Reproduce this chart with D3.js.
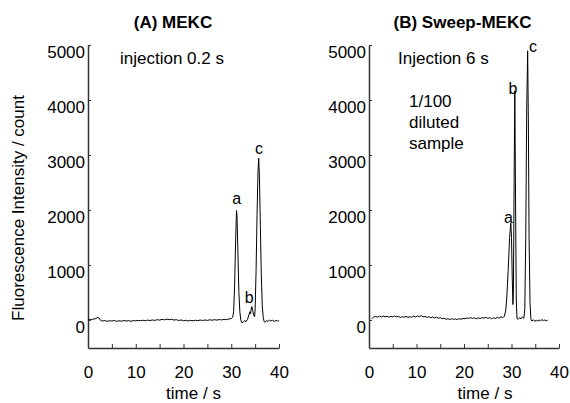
<!DOCTYPE html>
<html>
<head>
<meta charset="utf-8">
<script src="https://cdn.jsdelivr.net/npm/d3@7"></script>
<style>
  html, body { margin: 0; padding: 0; background: #fff; }
  svg { display: block; font-family: "Liberation Sans", Arial, sans-serif; }
</style>
</head>
<body>
<svg id="chart" width="570" height="403"></svg>
<script>
// ---------------- data ----------------
const panelTitles = ["(A) MEKC", "(B) Sweep-MEKC"];
const yTicks = [0, 1000, 2000, 3000, 4000, 5000];
const xTicks = [0, 5, 10, 15, 20, 25, 30, 35, 40];
const xTickLabels = ["0", "", "10", "", "20", "", "30", "", "40"];
const yLabel = "Fluorescence Intensity / count";
const xLabel = "time / s";
const notesA = ["injection 0.2 s"];
const notesB = ["Injection 6 s", "1/100", "diluted", "sample"];

// trace A: [time s, intensity count]
const traceA = [
  [0.1, 10],[0.5, 5],[1.0, 15],[1.5, 20],[2.0, 45],[2.3, 40],[2.6, -5],[3.0, -20],[3.5, -10],[4.0, -25],
  [4.5, -15],[5.0, -20],[5.5, -10],[6.0, -25],[6.5, -15],[7.0, -22],[7.5, -10],[8.0, -20],[8.5, -12],[9.0, -25],
  [9.5, -10],[10.0, -18],[10.5, -8],[11.0, -15],[11.5, -5],[12.0, -14],[12.5, -3],[13.0, -10],[13.5, 0],[14.0, -8],
  [14.5, 5],[15.0, -3],[15.5, 10],[16.0, 2],[16.5, 15],[17.0, 5],[17.5, 12],[18.0, -2],[18.5, 5],[19.0, -10],
  [19.5, 0],[20.0, -15],[20.5, -5],[21.0, -18],[21.5, -8],[22.0, -15],[22.5, -5],[23.0, -12],[23.5, -2],[24.0, -10],
  [24.5, 0],[25.0, -8],[25.5, 3],[26.0, -5],[26.5, 5],[27.0, -3],[27.5, 8],[28.0, 0],[28.5, 12],[29.0, 5],
  [29.5, 18],[30.0, 25],[30.3, 50],
  // peak a
  [30.5, 150],[30.7, 600],[30.9, 1400],[31.1, 1990],[31.2, 1900],[31.4, 1200],[31.6, 500],[31.8, 150],[32.0, 0],
  [32.2, -50],[32.5, -40],[32.8, -10],[33.1, -30],
  // peak b
  [33.4, 10],[33.7, 90],[33.9, 150],[34.05, 110],[34.15, 180],[34.3, 245],[34.5, 170],[34.7, 90],[34.9, 60],
  // peak c
  [35.0, 200],[35.2, 900],[35.4, 1900],[35.6, 2700],[35.75, 2940],[35.9, 2600],[36.1, 1700],[36.3, 800],[36.5, 250],
  [36.7, 40],[36.9, -30],[37.1, -40],[37.4, -10],[37.7, -30],[38.0, 0],[38.3, -20],[38.6, -5],[39.0, -25],
  [39.4, -10],[39.7, -20],[40.0, -15]
];

// trace B: [time s, intensity count]
const traceB = [
  [0.6, 20],[1.0, 55],[1.4, 65],[1.8, 50],[2.2, 70],[2.6, 55],[3.0, 72],[3.4, 58],[3.8, 68],[4.2, 50],
  [4.6, 65],[5.0, 55],[5.4, 72],[5.8, 58],[6.2, 65],[6.6, 45],[7.0, 60],[7.4, 50],[7.8, 65],[8.2, 45],
  [8.6, 60],[9.0, 50],[9.4, 70],[9.8, 55],[10.2, 72],[10.6, 58],[11.0, 78],[11.4, 55],[11.8, 65],[12.2, 45],
  [12.6, 60],[13.0, 40],[13.4, 55],[13.8, 35],[14.2, 50],[14.6, 30],[15.0, 42],[15.4, 22],[15.8, 32],[16.2, 12],
  [16.6, 22],[17.0, 8],[17.4, 22],[17.8, 12],[18.2, 18],[18.6, 8],[19.0, 22],[19.4, 12],[19.8, 28],[20.2, 22],
  [20.6, 38],[21.0, 28],[21.4, 42],[21.8, 28],[22.2, 38],[22.6, 22],[23.0, 38],[23.4, 28],[23.8, 42],[24.2, 32],
  [24.6, 48],[25.0, 28],[25.4, 42],[25.8, 22],[26.2, 38],[26.6, 28],[27.0, 48],[27.4, 32],[27.8, 58],[28.2, 42],
  [28.5, 70],[28.8, 180],
  // peak a
  [29.0, 400],[29.3, 900],[29.6, 1500],[29.85, 1760],[30.0, 1500],[30.15, 800],[30.3, 280],
  // peak b
  [30.4, 500],[30.55, 2500],[30.7, 4165],[30.85, 2200],[31.0, 400],[31.15, 30],[31.4, 10],[31.7, 40],[32.0, 20],
  [32.3, 55],[32.6, 30],
  // peak c
  [32.8, 200],[33.0, 1500],[33.2, 3800],[33.4, 4895],[33.55, 3600],[33.7, 1500],[33.9, 300],[34.1, 10],
  [34.3, -20],[34.6, 5],[34.9, -25],[35.2, -5],[35.5, -20],[35.8, 0],[36.1, -15],[36.4, 5],[36.7, -10],
  [37.0, 0],[37.3, -15],[37.6, -5]
];

const peakLabelsA = [
  { text: "a", t: 31.15, v: 2110 },
  { text: "b", t: 33.75, v: 300 },
  { text: "c", t: 35.8, v: 3020 }
];
const peakLabelsB = [
  { text: "a", t: 29.35, v: 1760 },
  { text: "b", t: 30.3, v: 4110 },
  { text: "c", t: 34.5, v: 4880 }
];

// ---------------- layout ----------------
const svg = d3.select("#chart");
svg.append("rect").attr("width", 570).attr("height", 403).attr("fill", "#fff");

const FONT = 17;
const axisColor = "#333";

const panels = [
  { title: panelTitles[0], titleX: 173, x0: 88, x1: 279, data: traceA, notes: notesA, noteX: 120, noteYs: [64],
    peaks: peakLabelsA, xLabelX: 193.5, showYLabel: true },
  { title: panelTitles[1], titleX: 462.5, x0: 369, x1: 559, data: traceB, notes: notesB, noteX: 398, noteYs: [64, 106.5, 128, 149],
    peaks: peakLabelsB, xLabelX: 485, showYLabel: false }
];

panels.forEach((p, i) => {
  const x = d3.scaleLinear().domain([0, 40]).range([p.x0, p.x1]);
  const y = d3.scaleLinear().domain([-510, 5000]).range([348, 45]);
  const g = svg.append("g");

  // title
  g.append("text").attr("x", p.titleX).attr("y", 27.5).attr("text-anchor", "middle")
    .attr("font-size", FONT).attr("font-weight", "bold").text(p.title);

  // y axis
  const ya = g.append("g").attr("transform", `translate(${p.x0},0)`)
    .call(d3.axisLeft(y).tickValues(yTicks).tickSize(-3).tickSizeOuter(0).tickPadding(3).tickFormat(d3.format("d")));
  ya.select(".domain").attr("stroke", axisColor).attr("stroke-width", 1.5);
  ya.selectAll(".tick line").attr("stroke", axisColor).attr("stroke-width", 1);
  ya.selectAll(".tick text").attr("font-size", FONT).attr("fill", "#000").attr("font-family", "Liberation Sans, Arial, sans-serif")
    .attr("dy", "0.71em");

  // x axis
  const xa = g.append("g").attr("transform", `translate(0,348)`)
    .call(d3.axisBottom(x).tickValues(xTicks).tickSize(-4).tickSizeOuter(0).tickPadding(18)
      .tickFormat((d, k) => xTickLabels[k]));
  xa.select(".domain").attr("stroke", axisColor).attr("stroke-width", 1.5);
  xa.selectAll(".tick line").attr("stroke", axisColor).attr("stroke-width", 1);
  xa.selectAll(".tick text").attr("font-size", FONT).attr("fill", "#000").attr("font-family", "Liberation Sans, Arial, sans-serif");

  // x label
  g.append("text").attr("x", p.xLabelX).attr("y", 399).attr("text-anchor", "middle")
    .attr("font-size", FONT).text(xLabel);

  // trace
  const line = d3.line().x(d => x(d[0])).y(d => y(d[1]));
  g.append("path").datum(p.data).attr("d", line).attr("fill", "none")
    .attr("stroke", "#000").attr("stroke-width", 1).attr("stroke-linejoin", "round");

  // notes
  p.notes.forEach((n, k) => {
    g.append("text").attr("x", p.noteX + (k > 0 ? 11 : 0)).attr("y", p.noteYs[k])
      .attr("font-size", FONT).text(n);
  });

  // peak labels
  p.peaks.forEach(pk => {
    g.append("text").attr("x", x(pk.t)).attr("y", y(pk.v)).attr("text-anchor", "middle")
      .attr("font-size", 16).text(pk.text);
  });

  if (p.showYLabel) {
    svg.append("text").attr("transform", "translate(24,208) rotate(-90)").attr("text-anchor", "middle")
      .attr("font-size", FONT).text(yLabel);
  }
});
</script>
</body>
</html>
